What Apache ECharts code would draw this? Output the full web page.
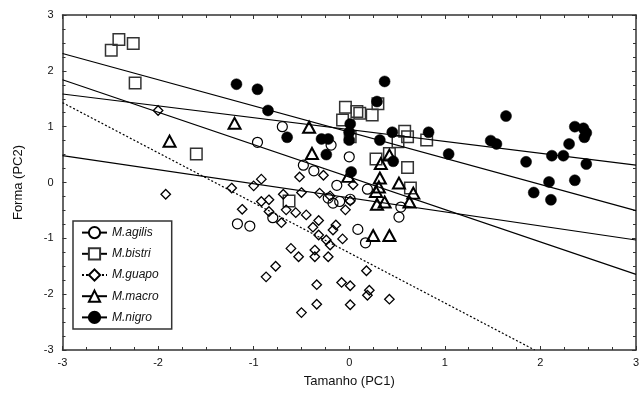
<!DOCTYPE html>
<html>
<head>
<meta charset="utf-8">
<script src="https://cdn.jsdelivr.net/npm/echarts@6/dist/echarts.min.js"></script>
<style>html,body{margin:0;padding:0;background:#fff}#c{width:641px;height:402px}</style>
</head>
<body>
<div id="c"></div>
<script>
// ---- data ----
const speciesNames = ['M.agilis', 'M.bistri', 'M.guapo', 'M.macro', 'M.nigro'];
const xTitle = 'Tamanho (PC1)';
const yTitle = 'Forma (PC2)';
const xRange = [-3, 3];
const yRange = [-3, 3];

const agilis = [[-0.96,0.72],[-0.70,1.00],[-0.19,0.67],[0.00,0.46],[-0.48,0.31],[-0.37,0.21],[-0.13,-0.05],[-0.22,-0.28],[-0.17,-0.37],[-0.10,-0.34],[0.01,-0.30],[0.19,-0.12],[0.54,-0.44],[0.52,-0.62],[0.09,-0.84],[0.17,-1.08],[-0.80,-0.63],[-1.17,-0.74],[-1.04,-0.78]];
const bistri = [[-2.49,2.37],[-2.41,2.56],[-2.26,2.49],[-2.24,1.78],[-1.60,0.51],[-0.04,1.35],[0.08,1.27],[0.11,1.24],[-0.07,1.12],[0.24,1.21],[0.30,1.41],[0.58,0.92],[0.61,0.82],[0.51,0.73],[0.81,0.76],[0.28,0.42],[0.42,0.52],[0.61,0.27],[0.01,0.82],[0.64,-0.10],[-0.63,-0.33]];
const guapo = [[-2.00,1.29],[-1.92,-0.21],[-1.23,-0.10],[-1.00,-0.06],[-0.92,0.06],[-1.12,-0.48],[-0.92,-0.34],[-0.84,-0.31],[-0.84,-0.52],[-0.71,-0.72],[-0.69,-0.21],[-0.66,-0.49],[-0.56,-0.54],[-0.52,0.10],[-0.50,-0.18],[-0.45,-0.58],[-0.32,-0.68],[-0.38,-0.80],[-0.31,-0.19],[-0.27,0.13],[-0.20,-0.24],[-0.14,-0.76],[-0.17,-0.85],[-0.32,-0.94],[-0.24,-1.03],[-0.20,-1.12],[-0.07,-1.01],[0.04,-0.04],[-0.04,-0.49],[0.01,-0.33],[-0.61,-1.18],[-0.53,-1.33],[-0.36,-1.21],[-0.36,-1.33],[-0.22,-1.33],[-0.77,-1.50],[-0.87,-1.69],[-0.34,-1.83],[-0.08,-1.79],[0.01,-1.85],[-0.34,-2.18],[0.01,-2.19],[-0.50,-2.33],[0.18,-1.58],[0.21,-1.93],[0.19,-2.02],[0.42,-2.09]];
const macro = [[-1.88,0.74],[-1.20,1.06],[-0.42,0.99],[-0.39,0.52],[0.33,0.34],[0.42,0.49],[0.32,0.08],[0.28,-0.16],[0.52,-0.01],[0.67,-0.19],[0.63,-0.35],[0.29,-0.39],[0.37,-0.35],[0.25,-0.95],[0.42,-0.95],[-0.01,0.11],[0.31,-0.08]];
const nigro = [[-1.18,1.76],[-0.96,1.67],[-0.85,1.29],[-0.65,0.81],[-0.29,0.78],[-0.22,0.78],[-0.24,0.50],[0.01,1.05],[0.00,0.90],[0.00,0.76],[0.02,0.19],[0.37,1.81],[0.29,1.45],[0.32,0.76],[0.45,0.90],[0.46,0.38],[0.83,0.90],[1.04,0.51],[1.64,1.19],[1.48,0.75],[1.54,0.69],[1.85,0.37],[2.12,0.48],[2.24,0.48],[2.30,0.69],[2.36,1.00],[2.45,0.97],[2.48,0.89],[2.46,0.81],[2.48,0.33],[2.09,0.01],[2.36,0.04],[1.93,-0.18],[2.11,-0.31]];

// regression line end points
const agilisFit = [[-3, 0.48], [3, -1.03]];
const bistriFit = [[-3, 2.31], [3, -0.505]];
const guapoFit  = [[-3, 1.43], [1.94, -3]];
const macroFit  = [[-3, 1.84], [3, -1.645]];
const nigroFit  = [[-3, 1.585], [3, 0.31]];

// ---- styles ----
const FONT = 'Liberation Sans';
const styles = {
  'M.agilis': {symbol: 'circle', size: 10, fill: 'rgba(0,0,0,0)', stroke: '#000', bw: 1.2},
  'M.bistri': {symbol: 'rect', size: 11.5, fill: 'rgba(0,0,0,0)', stroke: '#333', bw: 1.5},
  'M.guapo':  {symbol: 'diamond', size: 9.5, fill: 'rgba(0,0,0,0)', stroke: '#000', bw: 1.3},
  'M.macro':  {symbol: 'triangle', size: [12, 11], fill: 'rgba(0,0,0,0)', stroke: '#000', bw: 2},
  'M.nigro':  {symbol: 'circle', size: 11, fill: '#000', stroke: '#000', bw: 0.5}
};
const fits = {'M.agilis': agilisFit, 'M.bistri': bistriFit, 'M.guapo': guapoFit, 'M.macro': macroFit, 'M.nigro': nigroFit};
const pts = {'M.agilis': agilis, 'M.bistri': bistri, 'M.guapo': guapo, 'M.macro': macro, 'M.nigro': nigro};

const series = [];
speciesNames.forEach(n => {
  const s = styles[n];
  series.push({
    name: n, type: 'line', data: fits[n], showSymbol: false, symbol: s.symbol,
    silent: true, z: 3,
    itemStyle: {color: n === 'M.nigro' ? '#000' : '#fff', borderColor: s.stroke, borderWidth: Math.min(s.bw, 1.5)},
    lineStyle: {color: '#000', width: 1.2, type: n === 'M.guapo' ? [2, 2] : 'solid'}
  });
});
speciesNames.forEach(n => {
  const s = styles[n];
  series.push({
    name: n, type: 'scatter', data: pts[n], symbol: s.symbol, symbolSize: s.size, z: 2,
    itemStyle: {color: s.fill, borderColor: s.stroke, borderWidth: s.bw, opacity: 1}
  });
});

const axisLineStyle = {color: '#333', width: 1.5};
const tickCommon = {show: true, inside: true, length: 4, lineStyle: {color: '#333', width: 1}};
const minorCommon = {show: true, splitNumber: 4, length: 3, lineStyle: {color: '#333', width: 1}};

const chart = echarts.init(document.getElementById('c'), null, {renderer: 'canvas'});
chart.setOption({
  animation: false,
  backgroundColor: '#fff',
  grid: {left: 62.5, right: 5, top: 15, bottom: 52, containLabel: false, outerBoundsMode: 'none'},
  legend: {
    data: speciesNames, orient: 'vertical', left: 73, top: 221,
    padding: [5, 13, 5, 8], itemGap: 8, itemWidth: 25, itemHeight: 14,
    borderColor: '#333', borderWidth: 1.5, backgroundColor: '#fff',
    textStyle: {fontFamily: FONT, fontSize: 12, fontStyle: 'italic', color: '#111'},
    selectedMode: false
  },
  xAxis: [{
    type: 'value', min: xRange[0], max: xRange[1], interval: 1, position: 'bottom',
    name: xTitle, nameLocation: 'middle', nameGap: 25,
    nameTextStyle: {fontFamily: FONT, fontSize: 13, color: '#111'},
    axisLine: {show: true, onZero: false, lineStyle: axisLineStyle},
    axisTick: tickCommon, minorTick: minorCommon,
    axisLabel: {fontFamily: FONT, fontSize: 11, color: '#111', margin: 7},
    splitLine: {show: false}
  }, {
    type: 'value', min: xRange[0], max: xRange[1], interval: 1, position: 'top',
    axisLine: {show: true, onZero: false, lineStyle: axisLineStyle},
    axisTick: tickCommon, minorTick: minorCommon,
    axisLabel: {show: false}, splitLine: {show: false}
  }],
  yAxis: [{
    type: 'value', min: yRange[0], max: yRange[1], interval: 1, position: 'left',
    name: yTitle, nameLocation: 'middle', nameGap: 38, nameRotate: 90,
    nameTextStyle: {fontFamily: FONT, fontSize: 13, color: '#111'},
    axisLine: {show: true, onZero: false, lineStyle: axisLineStyle},
    axisTick: tickCommon, minorTick: minorCommon,
    axisLabel: {fontFamily: FONT, fontSize: 11, color: '#111', margin: 9},
    splitLine: {show: false}
  }, {
    type: 'value', min: yRange[0], max: yRange[1], interval: 1, position: 'right',
    axisLine: {show: true, onZero: false, lineStyle: axisLineStyle},
    axisTick: tickCommon, minorTick: minorCommon,
    axisLabel: {show: false}, splitLine: {show: false}
  }],
  series: series
});
</script>
</body>
</html>
